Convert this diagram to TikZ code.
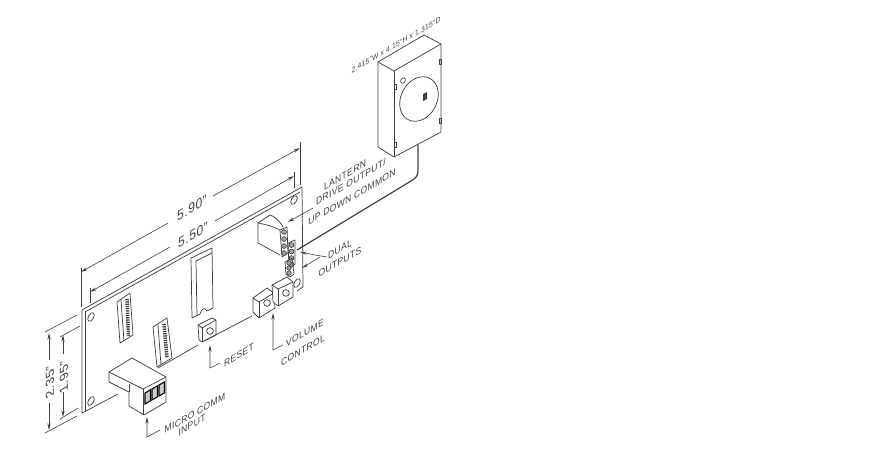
\documentclass[tikz,border=0pt]{standalone}
\usepackage{fontspec}
\setmainfont[LetterSpace=4]{Liberation Sans}
\usetikzlibrary{arrows.meta}
\definecolor{inkgray}{HTML}{404040}
\tikzset{
  part/.style={draw=inkgray,line width=0.55pt,line join=round},
  dimline/.style={draw=inkgray,line width=0.45pt},
  leader/.style={draw=inkgray,line width=0.45pt,-{Stealth[length=5pt,width=2.4pt]}},
  tag/.style={text=inkgray,font=\fontsize{7.4pt}{7.4pt}\selectfont,cm={.866,.5,0,1,(0,0)},inner sep=0pt},
  bigtag/.style={tag,font=\fontsize{10.5pt}{10.5pt}\selectfont},
  uptag/.style={text=inkgray,font=\fontsize{10pt}{10pt}\selectfont,cm={0,1,-.866,-.5,(0,0)},inner sep=0pt},
  holeshape/.style={x radius=2pt,y radius=3.6pt,rotate=-30},
  knob/.style={part,circle,minimum size=5pt,inner sep=0pt},
  pin/.style={draw=inkgray,line width=0.5pt,fill=black!35},
}
\begin{document}
\begin{tikzpicture}[x=0.75pt,y=-0.75pt]
  \useasboundingbox (0,0) rectangle (870,455);
  % board
  \coordinate (TL) at (82,310);
  \coordinate (TR) at (302,187);
  \coordinate (BR) at (303,287);
  \coordinate (BL) at (82,413);
  \draw[part] (TL) -- (TR) -- (BR) -- (297,291);
  \draw[part] (TL) -- (BL) -- (118,394);
  \draw[part] (158,368) -- (198,345);
  \draw[part] (204,341) -- (252,316);
  \draw[part] (85,311) -- (85,412);
  \draw[part] (85,312) -- (300,192);
  \foreach \p in {(91,317),(91,401),(294,200),(297,283)} \draw[part] \p circle [holeshape];
  % headers on the left
  \draw[part] (117,302) -- (130,293) -- (133,335) -- (120,343) -- cycle;
  \draw[part] (121,300) -- (124,341);
  \draw[draw=inkgray,line width=2.6pt,dash pattern=on 1pt off 0.7pt] (127,299) -- (128.5,336);
  \draw[part] (153,327) -- (167,318) -- (172,358) -- (157,367) -- cycle;
  \draw[part] (158,325) -- (161,365);
  \draw[draw=inkgray,line width=2.6pt,dash pattern=on 1pt off 0.7pt] (164,324) -- (167,358);
  % chip
  \draw[part] (191,258) -- (212,248) -- (213,308) -- (207,311) .. controls (205,307) and (202,308) .. (200,314) -- (192,318) -- cycle;
  \draw[part] (196,261) -- (197,316);
  \draw[part] (196,261) -- (212,253);
  % reset
  \draw[part] (198,325) -- (212,318) -- (216,320) -- (216,335) -- (202,342) -- (199,340) -- cycle;
  \draw[part] (198,325) -- (202,328) -- (216,320);
  \draw[part] (202,328) -- (202,342);
  \node[knob] (resetknob) at (210,331) {};
  % micro comm connector
  \draw[part] (109,372) -- (132,358) -- (166,377) -- (166,402) -- (144,415) -- (129,406) -- (129,392) -- (109,382) -- cycle;
  \draw[part] (109,372) -- (143,389) -- (166,377);
  \draw[part] (143,389) -- (143,415);
  \draw[part] (129,392) -- (129,384);
  \foreach \n in {0,1,2} \draw[draw=black,line width=0.8pt,fill=black!20] (145+7*\n,393-4*\n) -- ++(5.5,-3.2) -- ++(0,11) -- ++(-5.5,3.2) -- cycle;
  % volume pots
  \draw[part,fill=white] (253,298) -- (267,288) -- (274,293) -- (275,308) -- (259,318) -- (253,312) -- cycle;
  \draw[part] (253,298) -- (259,302) -- (274,293);
  \draw[part] (259,302) -- (259,318);
  \node[knob] (potleft) at (267,303) {};
  \draw[part,fill=white] (272,285) -- (287,277) -- (293,282) -- (293,297) -- (278,306) -- (273,302) -- cycle;
  \draw[part] (272,285) -- (278,289) -- (293,282);
  \draw[part] (278,289) -- (278,306);
  \node[knob] (potright) at (286,293) {};
  % lantern connector and pin strips
  \draw[part] (258,223) -- (270,215) .. controls (274,216) and (280,221) .. (283,227);
  \draw[part] (258,223) .. controls (264,224) and (272,226) .. (280,230);
  \draw[part] (258,223) -- (258,243) -- (280,255);
  \draw[part] (280,230) -- (287,227) -- (288,253) -- (282,257) -- cycle;
  \foreach \n in {0,...,3} \draw[pin] (284,{232+\n*7}) circle (2.4);
  \draw[part] (288,243) -- (295,240) -- (295,264) -- (289,268) -- cycle;
  \foreach \n in {0,...,3} \draw[pin] (291.5,{245+\n*6.5}) circle (2.4);
  \draw[part] (285,262) -- (292,258) -- (294,274) -- (290,277) -- (286,274) -- cycle;
  \foreach \n in {0,1,2} \draw[pin] (289,{263+\n*5}) circle (2.2);
  % lantern box
  \coordinate (BoxA) at (424,35);
  \coordinate (BoxB) at (378,62);
  \coordinate (BoxC) at (441,44);
  \coordinate (BoxD) at (394,71);
  \coordinate (BoxE) at (394,157);
  \coordinate (BoxF) at (378,147);
  \coordinate (BoxG) at (441,132);
  \draw[part] (BoxB) -- (BoxA) -- (BoxC) -- (BoxG) -- (BoxE) -- (BoxF) -- cycle;
  \draw[part] (BoxB) -- (BoxD) -- (BoxC);
  \draw[part] (BoxD) -- (BoxE);
  \draw[part] (419,99) circle [x radius=17.5pt,y radius=13.5pt,rotate=62];
  \draw[part] (403,80.5) circle [x radius=1.6pt,y radius=2.2pt,rotate=-30];
  \fill[inkgray] (423,94) -- (427,92) -- (427,99) -- (423,101) -- cycle;
  \foreach \p in {(395,87),(395,145),(440,62),(440,121)} \draw[part] \p ++(-1,-2.5) rectangle ++(2,5);
  % cable
  \draw[draw=inkgray,line width=0.9pt] (418,145) -- (418,170) .. controls (418,176) and (416,178) .. (411,181) -- (297,250);
  % dimensions across the top
  \draw[dimline] (81,268) -- (81,307);
  \draw[dimline] (300,142) -- (300,185);
  \draw[dimline] (90,288) -- (90,303);
  \draw[dimline] (294,172) -- (294,188);
  \node[bigtag] (widthA) at (192,208) {5.90"};
  \node[bigtag] (widthB) at (193,235) {5.50"};
  \draw[leader] (168,223) -- (81,272);
  \draw[leader] (213,196) -- (300,148);
  \draw[leader] (170,247) -- (90,292);
  \draw[leader] (215,221) -- (294,176);
  % dimensions at the left
  \draw[dimline] (45,332) -- (77,315);
  \draw[dimline] (45,433) -- (77,416);
  \draw[dimline] (60,337) -- (80,326);
  \draw[dimline] (60,419) -- (78,408);
  \node[uptag] (heightA) at (50,382) {2.35"};
  \node[uptag] (heightB) at (64,377) {1.95"};
  \draw[leader] (49,360) -- (49,333);
  \draw[leader] (49,403) -- (49,430);
  \draw[leader] (63,354) -- (63,335);
  \draw[leader] (63,392) -- (63,417);
  % labels with leaders
  \node[tag,font=\fontsize{5.8pt}{5.8pt}\selectfont] (size) at (396,45) {2.415"W x 4.15"H x 1.315"D};
  \node[tag] (lanternA) at (345,175) {LANTERN};
  \node[tag] (lanternB) at (351,182) {DRIVE OUTPUT/};
  \node[tag] (lanternC) at (352,197) {UP DOWN COMMON};
  \draw[leader] (313,208) -- (288,222);
  \node[tag] (dualA) at (340,249) {DUAL};
  \node[tag] (dualB) at (340,262) {OUTPUTS};
  \draw[leader] (327,257) -- (315,255) -- (300,252);
  \draw[leader] (320,257) -- (302,268);
  \node[tag] (volA) at (305,333) {VOLUME};
  \node[tag] (volB) at (303,350) {CONTROL};
  \draw[leader] (283,345) -- (273,350) -- (273,313);
  \node[tag] (resettag) at (239,355) {RESET};
  \draw[leader] (220,363) -- (210,368) -- (210,345);
  \node[tag] (microA) at (195,413) {MICRO COMM};
  \node[tag] (microB) at (192,425) {INPUT};
  \draw[leader] (160,430) -- (147,437) -- (147,417);
\end{tikzpicture}
\end{document}
